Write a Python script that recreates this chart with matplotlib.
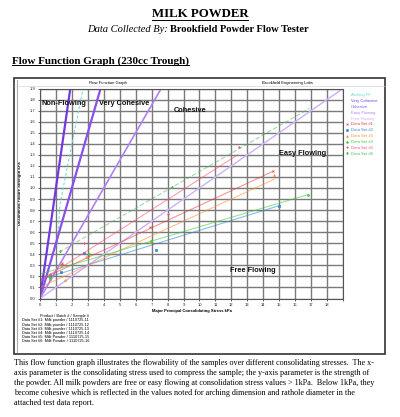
import matplotlib
matplotlib.use('Agg')
import matplotlib.pyplot as plt
from matplotlib.lines import Line2D
from matplotlib.patches import Rectangle

# flow function region boundaries (lines through the origin, y = x / ff)
boundary_names = ['Very Cohesive', 'Cohesive', 'Easy Flowing', 'Free Flowing']
boundary_ff = [1, 2, 4, 10]
boundary_colors = ['#7438e0', '#8a50ec', '#b080f6', '#cfb0fb']
boundary_widths = [1.6, 1.6, 1.2, 1.0]

# arching flow function curve
arching_x = [1.1, 1.25, 1.92, 2.7]
arching_y = [0.5, 0.85, 1.34, 1.9]

# measured data sets
set_names = ['Data Set #1', 'Data Set #2', 'Data Set #3',
             'Data Set #4', 'Data Set #5', 'Data Set #6']
set_colors = ['#f03c3c', '#2f86d0', '#ff8c3a', '#3ccf3c', '#ff4f78', '#52b852']
set_markers = ['x', 's', '^', 'o', '*', 'd']
set_x = [[0.63, 1.35, 2.98, 6.88, 14.6],
         [0.6, 1.31, 2.77, 7.25, 15.0],
         [0.65, 1.56, 2.9, 6.9, 14.7],
         [0.6, 1.3, 3.05, 6.98, 16.8],
         [0.6, 1.35, 2.77, 8.0, 12.46],
         [0.55, 1.25, 8.3]]
set_y = [[0.18, 0.32, 0.39, 0.65, 1.15],
         [0.2, 0.24, 0.41, 0.44, 0.84],
         [0.19, 0.17, 0.38, 0.51, 1.12],
         [0.19, 0.3, 0.40, 0.52, 0.94],
         [0.22, 0.31, 0.5, 0.765, 1.37],
         [0.2, 0.43, 1.01]]
# fitted lines for each data set (start / end)
fit_x = [[0, 14.6], [0, 15.0], [0, 14.7], [0, 16.8], [0, 12.4], [1.2, 16.9]]
fit_y = [[0.17, 1.15], [0.17, 0.84], [0.10, 1.08], [0.22, 0.94], [0.16, 1.30], [0.42, 1.72]]

region_labels = ['Non-Flowing', 'Very Cohesive', 'Cohesive', 'Easy Flowing', 'Free Flowing']
region_x = [0.12, 3.7, 8.4, 15.0, 11.9]
region_y = [1.76, 1.76, 1.70, 1.31, 0.25]

x_ticks = list(range(0, 20))
y_ticks = [i / 10 for i in range(0, 20)]

sample_ids = ['Milk powder / 1110725-11', 'Milk powder / 1110725-12', 'Milk powder / 1110725-13',
              'Milk powder / 1110725-14', 'Milk Powder / 1110725-15', 'Milk Powder / 1110725-16']

paragraph = [
    'This flow function graph illustrates the flowability of the samples over different consolidating stresses.  The x-',
    'axis parameter is the consolidating stress used to compress the sample; the y-axis parameter is the strength of',
    'the powder. All milk powders are free or easy flowing at consolidation stress values > 1kPa.  Below 1kPa, they',
    'become cohesive which is reflected in the values noted for arching dimension and rathole diameter in the',
    'attached test data report.',
]

W, H = 400, 417
fig = plt.figure(figsize=(W / 100, H / 100), dpi=100)
fig.patch.set_facecolor('white')

SANS = 'Liberation Sans'
SERIF = 'Liberation Serif'

# chart frame
fig.add_artist(Rectangle((14 / W, 1 - 354 / H), 371 / W, 276 / H, transform=fig.transFigure,
                         fill=False, edgecolor='#333333', linewidth=1.2))
fig.add_artist(Line2D([17 / W, 17 / W], [1 - 352 / H, 1 - 80 / H], transform=fig.transFigure,
                      color='#aaaaaa', linewidth=0.8))

ax = fig.add_axes([40 / W, 1 - 298.5 / H, 303 / W, 210 / H])
ax.set_xlim(0, 19)
ax.set_ylim(0, 1.9)
ax.set_axisbelow(True)
ax.grid(True, color='#7a7a7a', linewidth=1.0)
ax.set_xticks(x_ticks)
ax.set_xticklabels([str(v) if v < 19 else '' for v in x_ticks])
ax.set_yticks(y_ticks)
ax.set_yticklabels([f'{v:.1f}' for v in y_ticks])
ax.tick_params(labelsize=3, length=1.5, width=0.5, pad=1.5, colors='#222222')
for lbl in ax.get_xticklabels() + ax.get_yticklabels():
    lbl.set_family(SANS)
for s in ax.spines.values():
    s.set_color('#555555')
    s.set_linewidth(0.8)

handles = []
h, = ax.plot(arching_x, arching_y, color='#66dcc8', linewidth=0.7, linestyle=(0, (3, 2)),
             label='Arching FF')
handles.append(h)
for name, ff, c, lw in zip(boundary_names, boundary_ff, boundary_colors, boundary_widths):
    h, = ax.plot([0, 19 * 2], [0, 19 * 2 / ff], color=c, linewidth=lw, label=name)
    handles.append(h)

marker_handles = []
for i in range(len(set_names)):
    ls = (0, (4, 2)) if i == 5 else '-'
    ax.plot(fit_x[i], fit_y[i], color=set_colors[i], alpha=0.55, linewidth=0.8, linestyle=ls)
    m, = ax.plot(set_x[i], set_y[i], linestyle='none', marker=set_markers[i], markersize=1.4,
                 markeredgewidth=0.5, color=set_colors[i], label=set_names[i])
    marker_handles.append(m)

for t, x, y in zip(region_labels, region_x, region_y):
    ax.text(x, y, t, fontsize=5.3, fontweight='bold', family=SANS, va='center', ha='left', color='#111111')

ax.set_xlabel('Major Principal Consolidating Stress kPa', fontsize=3, fontweight='bold', family=SANS, labelpad=2)
ax.set_ylabel('Unconfined Failure Strength kPa', fontsize=3, fontweight='bold', family=SANS, labelpad=6)

# legend
leg_handles = [Line2D([], [], color=hh.get_color(), linestyle='none') for hh in handles] + marker_handles
leg_labels = ['Arching FF'] + boundary_names + set_names
fig.legend(leg_handles, leg_labels, loc='upper left', bbox_to_anchor=(344 / W, 1 - 91 / H),
           frameon=False, labelcolor='linecolor', handlelength=0.6, handletextpad=0.5,
           labelspacing=0.45, borderpad=0, markerscale=0.9, prop={'family': SANS, 'size': 3})

# chart header texts
fig.text(108 / W, 1 - 83 / H, 'Flow Function Graph', fontsize=3, family=SANS, ha='center', va='center')
fig.text(288 / W, 1 - 83 / H, 'Brookfield Engineering Labs', fontsize=3, family=SANS, ha='center', va='center')
fig.add_artist(Line2D([14 / W, 385 / W], [1 - 86 / H, 1 - 86 / H], transform=fig.transFigure,
                      color='#cccccc', linewidth=0.4))

# sample block
fig.text(64 / W, 1 - 316 / H, 'Product / Batch # / Sample #', fontsize=2.8, family=SANS, ha='center', va='center')
for i, (n, s) in enumerate(zip(set_names, sample_ids)):
    fig.text(22 / W, 1 - (320.5 + i * 4.2) / H, f'{n}: {s}', fontsize=2.8, family=SANS, ha='left', va='center')

# document texts
title = fig.text(0.5, 1 - 14 / H, 'MILK POWDER', fontsize=9.3, fontweight='bold', family=SERIF,
                 ha='center', va='center')
fig.text(168 / W, 1 - 30 / H, 'Data Collected By:', fontsize=7.6, style='italic', family=SERIF,
         ha='right', va='center')
fig.text(170 / W, 1 - 30 / H, 'Brookfield Powder Flow Tester', fontsize=7.6, fontweight='bold', family=SERIF,
         ha='left', va='center')
sub = fig.text(12 / W, 1 - 61 / H, 'Flow Function Graph (230cc Trough)', fontsize=8, fontweight='bold',
               family=SERIF, ha='left', va='center')

for i, line in enumerate(paragraph):
    fig.text(14 / W, 1 - (363 + i * 10) / H, line, fontsize=5.85, family=SERIF, ha='left', va='center')

# underline the headings
fig.canvas.draw()
r = fig.canvas.get_renderer()
for t in (title, sub):
    bb = t.get_window_extent(r)
    yy = (bb.y0 + 0.5) / H
    fig.add_artist(Line2D([bb.x0 / W, bb.x1 / W], [yy, yy], transform=fig.transFigure,
                          color='black', linewidth=0.7))

fig.savefig('out.png', dpi=100, facecolor='white')
